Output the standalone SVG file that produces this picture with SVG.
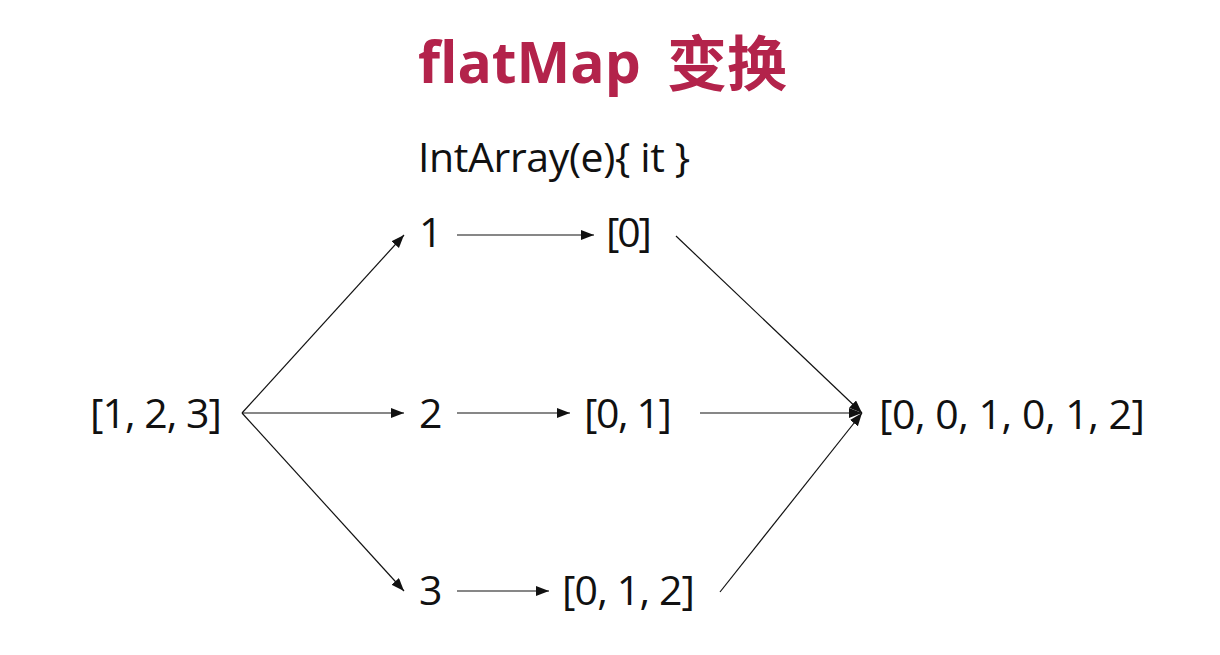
<svg xmlns="http://www.w3.org/2000/svg" width="1220" height="655" viewBox="0 0 1220 655">
  <style>
    .title { font-family: "Open Sans", "Noto Sans CJK SC", sans-serif; font-weight: bold; font-size: 57px; fill: #b3234b; }
    .cjk { font-family: "Noto Sans CJK SC", sans-serif; font-size: 60px; }
    .lbl { font-family: "Open Sans", "Noto Sans", sans-serif; font-size: 41px; fill: #111111; }
    .conn line { stroke: #111111; stroke-width: 1.2; fill: none; marker-end: url(#arrow); }
  </style>
  <defs>
    <marker id="arrow" markerUnits="userSpaceOnUse" markerWidth="14" markerHeight="11" refX="13" refY="5" orient="auto">
      <path d="M0,0 L13,5 L0,10 z" fill="#111111"/>
    </marker>
  </defs>
  <rect width="1220" height="655" fill="#ffffff"/>

  <text class="title" x="418" y="83">flatMap <tspan class="cjk" x="667" y="86">变换</tspan></text>
  <text class="lbl" x="418" y="172" textLength="272">IntArray(e){ it }</text>

  <g id="n-input"><text class="lbl" x="90" y="428" textLength="132">[1, 2, 3]</text></g>
  <g id="n-1"><text class="lbl" x="419" y="247">1</text></g>
  <g id="n-2"><text class="lbl" x="419" y="428">2</text></g>
  <g id="n-3"><text class="lbl" x="419" y="605">3</text></g>
  <g id="n-a0"><text class="lbl" x="606" y="247" textLength="46">[0]</text></g>
  <g id="n-a01"><text class="lbl" x="584" y="428" textLength="88">[0, 1]</text></g>
  <g id="n-a012"><text class="lbl" x="562" y="605" textLength="133">[0, 1, 2]</text></g>
  <g id="n-out"><text class="lbl" x="879" y="429" textLength="266">[0, 0, 1, 0, 1, 2]</text></g>

  <g id="connectors" class="conn">
    <line x1="242" y1="413" x2="404" y2="235"/>
    <line x1="242" y1="413" x2="404" y2="413"/>
    <line x1="242" y1="413" x2="404" y2="591"/>
    <line x1="457" y1="235" x2="594" y2="235"/>
    <line x1="457" y1="413" x2="570" y2="413"/>
    <line x1="457" y1="591" x2="549" y2="591"/>
    <line x1="676" y1="236" x2="862" y2="413"/>
    <line x1="700" y1="413" x2="862" y2="413"/>
    <line x1="720" y1="592" x2="862" y2="413"/>
  </g>
</svg>
